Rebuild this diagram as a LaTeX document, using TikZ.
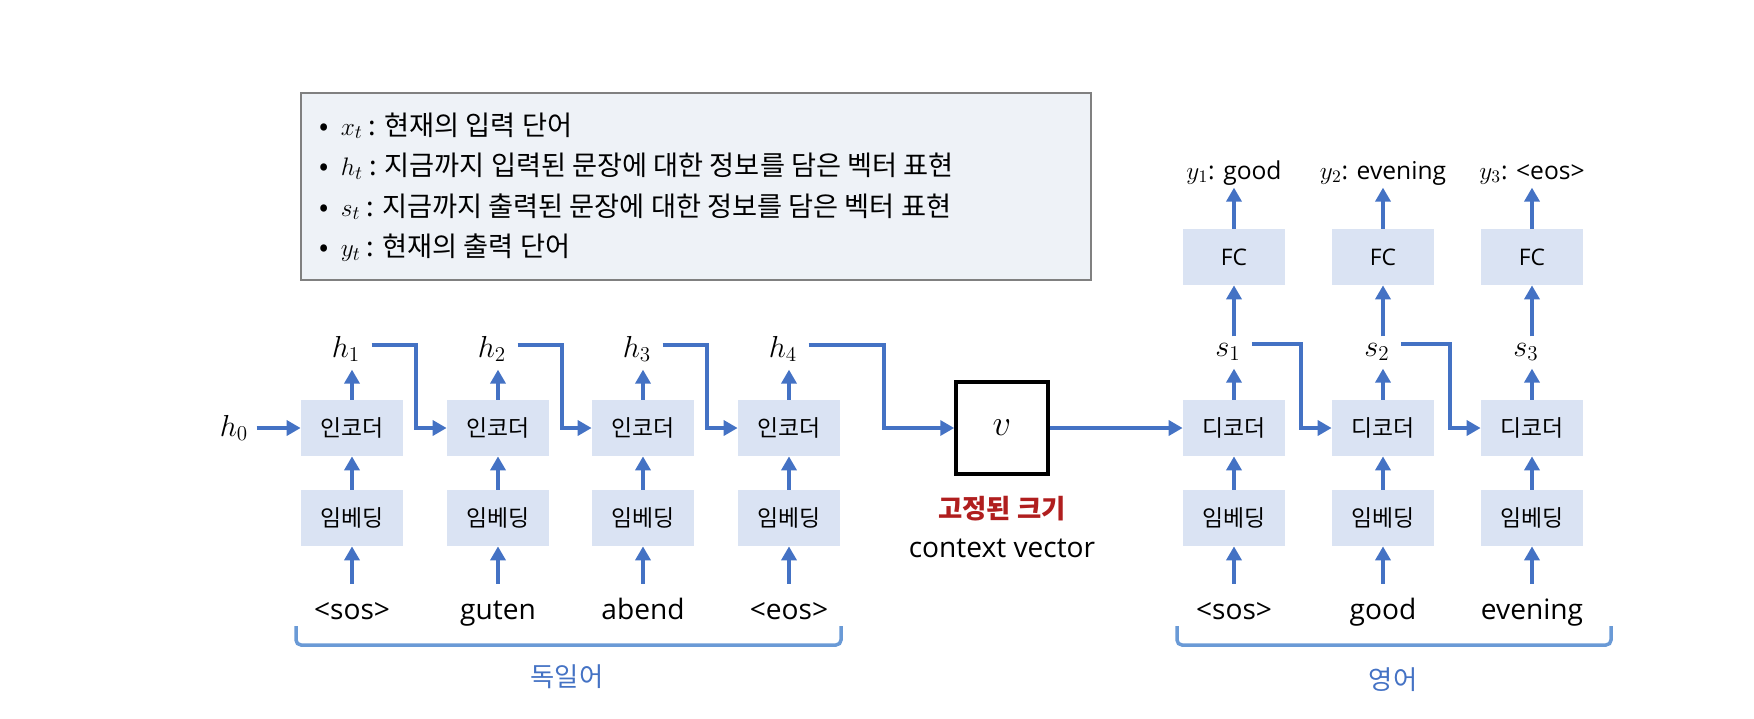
\documentclass[tikz,border=0pt]{standalone}
\usepackage{fontspec}
\newfontfamily\krfont{Noto Sans CJK KR}
\newfontfamily\enfont{Open Sans}
\usetikzlibrary{positioning, arrows.meta, calc}
\definecolor{myBlue}{HTML}{4472C4}
\definecolor{myFill}{HTML}{DAE3F3}
\definecolor{myBrace}{HTML}{6A9AD6}
\definecolor{myLeg}{HTML}{EEF2F7}
\definecolor{myGray}{HTML}{808080}
\definecolor{myRed}{HTML}{B01E1E}

\begin{document}
\begin{tikzpicture}[x=0.2mm, y=-0.2mm,
  blk/.style={fill=myFill, minimum width=20.4mm, minimum height=11.2mm, inner sep=0pt},
  kr/.style={font=\krfont\fontsize{13}{15}\selectfont},
  en/.style={font=\enfont\fontsize{13}{15}\selectfont},
  word/.style={font=\enfont\fontsize{16}{18}\selectfont, anchor=base, inner sep=2pt, text height=18pt},
  hlab/.style={font=\fontsize{16.5}{18}\selectfont, anchor=base, inner sep=0pt, text height=11pt, text depth=3pt},
  ylab/.style={font=\enfont\fontsize{14}{16}\selectfont, anchor=base, inner sep=0pt, text depth=3pt},
  arr/.style={-{Triangle[length=2.8mm, width=3mm]}, line width=0.8mm, myBlue},
  brace/.style={line width=0.7mm, myBrace, rounded corners=1mm},
  lang/.style={font=\krfont\fontsize{15}{17}\selectfont, text=myBlue}
]
\useasboundingbox (0,0) rectangle (1754,718);

% legend
\node[draw=myGray, line width=0.4mm, fill=myLeg, minimum width=157.8mm, minimum height=37.4mm] (leg) at (696,186) {};
\node[anchor=west, align=left, inner sep=0pt, font=\krfont\fontsize{15.5}{23}\selectfont] (legtxt) at (319,187)
  {•\hspace{7pt}$x_t$ : 현재의 입력 단어\\
   •\hspace{7pt}$h_t$ : 지금까지 입력된 문장에 대한 정보를 담은 벡터 표현\\
   •\hspace{7pt}$s_t$ : 지금까지 출력된 문장에 대한 정보를 담은 벡터 표현\\
   •\hspace{7pt}$y_t$ : 현재의 출력 단어};

% encoder side
\node[hlab] (h0) at (234,436) {$h_0$};
\foreach \i/\x/\w in {1/352/{<sos>},2/498/guten,3/643/abend,4/789/{<eos>}}{
  \node[blk, kr] (enc\i) at (\x,428) {인코더};
  \node[blk, kr] (emb\i) at (\x,518) {임베딩};
  \node[word] (src\i) at (\x,619) {\w};
  \node[hlab] (h\i) at (\x-6,357) {$h_\i$};
  \draw[arr] (src\i) -- (emb\i);
  \draw[arr] (emb\i) -- (enc\i);
  \draw[arr, shorten >=1.4mm] (enc\i.north) -- (enc\i.north |- h\i.south);
}
\draw[arr, shorten <=1.6mm] (h0.east |- enc1.west) -- (enc1.west);
\foreach \i/\j in {1/2,2/3,3/4}{
  \draw[arr] ([xshift=2.2mm,yshift=1mm]h\i.east) -| ([xshift=2.6mm]enc\i.east) -- (enc\j.west);
}

% context vector
\node[draw, line width=0.7mm, minimum size=18.4mm, inner sep=0pt, font=\fontsize{20}{22}\selectfont] (v) at (1002,428) {$v$};
\node[font=\krfont\bfseries\fontsize{15}{17}\selectfont, text=myRed] (fixed) at (1002,509) {고정된 크기};
\node[font=\enfont\fontsize{16}{18}\selectfont] (ctx) at (1002,548) {context vector};
\draw[arr] ([xshift=2.2mm,yshift=1mm]h4.east) -| ([xshift=8.8mm]enc4.east) -- (v.west);

% decoder side
\foreach \i/\x/\w/\o in {1/1234/{<sos>}/good,2/1383/good/evening,3/1532/evening/{<eos>}}{
  \node[blk, kr] (dec\i) at (\x,428) {디코더};
  \node[blk, kr] (demb\i) at (\x,518) {임베딩};
  \node[word] (tgt\i) at (\x,619) {\w};
  \node[hlab] (s\i) at (\x-6,356) {$s_\i$};
  \node[blk, en] (fc\i) at (\x,257) {FC};
  \node[ylab] (y\i) at (\x,179) {$y_\i$: \o};
  \draw[arr] (tgt\i) -- (demb\i);
  \draw[arr] (demb\i) -- (dec\i);
  \draw[arr, shorten >=1.4mm] (dec\i.north) -- (dec\i.north |- s\i.south);
  \draw[arr] (dec\i.north |- s\i.north) -- (fc\i.south);
  \draw[arr, shorten >=0.6mm] (fc\i.north) -- (fc\i.north |- y\i.south);
}
\draw[arr] (v) -- (dec1);
\foreach \i/\j in {1/2,2/3}{
  \draw[arr] ([xshift=2.2mm,yshift=1mm]s\i.east) -| ([xshift=3.2mm]dec\i.east) -- (dec\j.west);
}

% language brackets
\draw[brace] (296,626) -- (296,645) -- (841,645) -- (841,626);
\draw[brace] (1177,626) -- (1177,645) -- (1611,645) -- (1611,626);
\node[lang] (deLang) at (567,677) {독일어};
\node[lang] (enLang) at (1393,680) {영어};
\end{tikzpicture}
\end{document}
